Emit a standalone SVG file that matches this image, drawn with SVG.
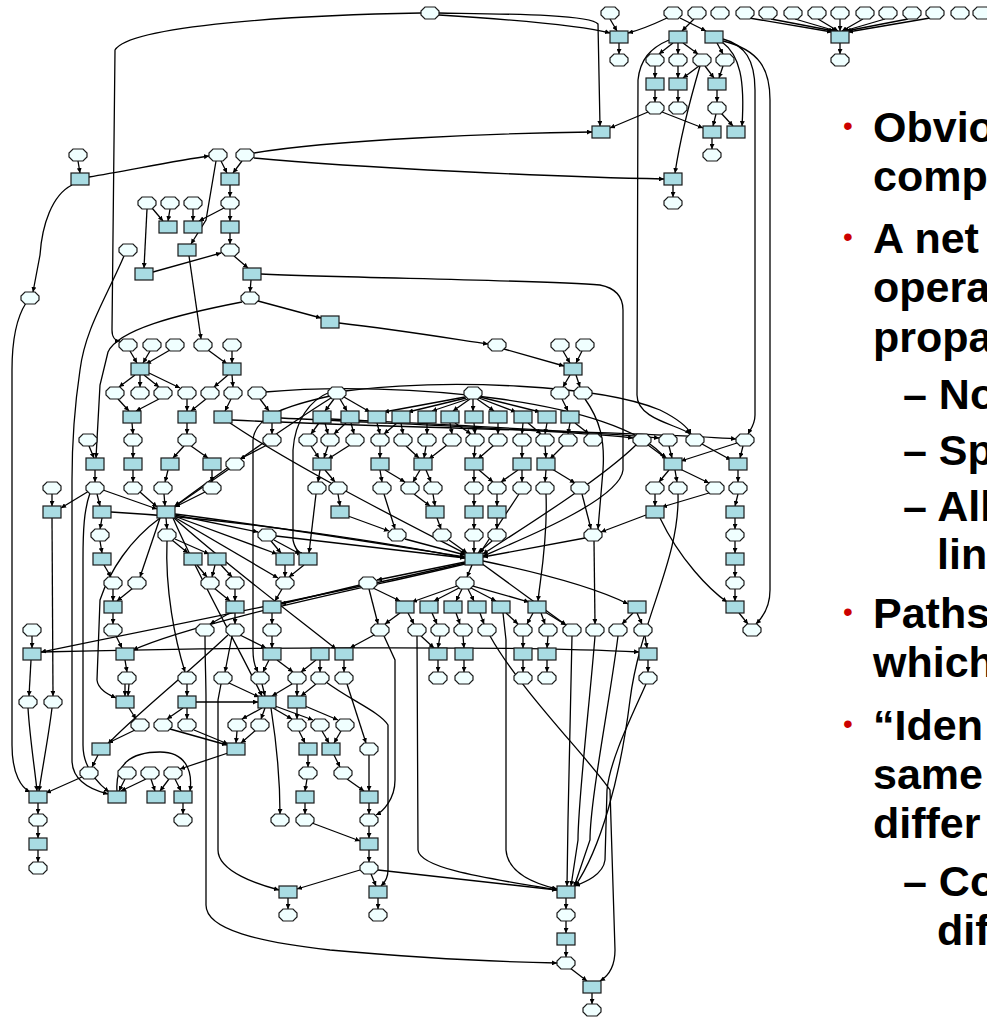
<svg xmlns="http://www.w3.org/2000/svg" width="987" height="1019" viewBox="0 0 987 1019">
<style>
.rn{fill:#A9DCE3;stroke:#1a1a1a;stroke-width:1.2}
.en{fill:#F0FFFF;stroke:#1a1a1a;stroke-width:1.2}
#connectors path{fill:none;stroke:#000;stroke-width:1.3;marker-end:url(#a)}
.t{font-family:"Liberation Sans",Arial,sans-serif;font-weight:bold;font-size:43px;fill:#000}
.b{font-family:"Liberation Sans",Arial,sans-serif;font-size:28px;fill:#CC0000}
</style>
<defs>
<marker id="a" viewBox="0 0 6 6" refX="6" refY="3" markerWidth="5" markerHeight="5" markerUnits="userSpaceOnUse" orient="auto"><path d="M0,0 L6,3 L0,6 Z" fill="#000"/></marker>
<rect id="R" x="-9" y="-6" width="18" height="12" class="rn"/>
<path id="E" d="M-5,-6 H5 L9,-2 V2 L5,6 H-5 L-9,2 V-2 Z" class="en"/>
</defs>
<rect width="987" height="1019" fill="#fff"/>
<g id="connectors">
<path d="M610 19 L617 31"/><path d="M667 18 C650 26 640 30 628 33"/><path d="M680 18 L706 31"/><path d="M694 19 L682 31"/>
<path d="M749 18 L832 32"/><path d="M771 19 L834 31"/><path d="M795 19 L836 31"/><path d="M818 19 L838 31"/><path d="M840 19 L840 31"/><path d="M863 19 L842 31"/><path d="M885 19 L844 31"/><path d="M908 19 L846 31"/><path d="M930 18 L848 32"/>
<path d="M439 13 C500 14 590 14 598 24 L600 126"/>
<path d="M439 15 C520 20 580 25 610 33"/>
<path d="M421 13 C300 15 130 25 115 50 L112 330 C112 338 116 341 120 341"/>
<path d="M619 43 V54"/><path d="M840 43 V54"/><path d="M673 43 L659 54"/><path d="M678 43 V54"/><path d="M683 43 L698 54"/><path d="M717 43 L723 54"/>
<path d="M669 40 C650 48 640 60 638 80 L637 395 C637 420 680 425 690 434"/>
<path d="M723 39 C745 45 755 60 755 90 L755 415 C755 425 750 430 748 434"/>
<path d="M723 41 C760 50 770 70 770 100 L770 590 C770 610 760 620 756 624"/>
<path d="M722 42 C740 55 745 80 742 126"/>
<path d="M655 66 V78"/><path d="M678 66 V78"/><path d="M699 66 L683 78"/><path d="M705 66 L714 78"/><path d="M723 66 L719 78"/>
<path d="M655 90 V102"/><path d="M678 90 V102"/><path d="M717 90 V102"/>
<path d="M648 112 L610 128"/><path d="M662 112 L703 128"/><path d="M716 114 L713 126"/><path d="M721 113 L733 126"/>
<path d="M712 138 V149"/><path d="M700 66 C690 100 680 140 675 173"/>
<path d="M254 153 C330 140 500 133 592 132"/>
<path d="M254 158 C360 168 560 177 664 179"/>
<path d="M673 185 V197"/>
<path d="M78 161 L80 173"/><path d="M89 177 C130 170 180 160 209 156"/>
<path d="M72 185 C52 195 42 225 40 255 L33 292"/>
<path d="M26 303 C15 320 12 345 12 370 L12 745 C12 775 22 788 30 792"/>
<path d="M221 161 L227 173"/><path d="M242 161 L233 173"/><path d="M216 161 L206 220 L191 244"/>
<path d="M230 185 V197"/><path d="M230 209 V221"/><path d="M230 233 V244"/><path d="M234 256 L248 268"/><path d="M251 280 L250 292"/>
<path d="M152 208 L163 221"/><path d="M147 209 L144 268"/><path d="M170 209 L168 221"/><path d="M193 209 V221"/><path d="M224 208 L199 221"/>
<path d="M153 272 L221 253"/>
<path d="M124 256 C105 300 85 330 80 370 C74 410 72 440 72 480 L72 760 C72 785 100 792 108 794"/>
<path d="M189 256 L201 339"/><path d="M258 301 L321 318"/>
<path d="M242 302 C175 315 118 330 108 352 L100 385 L96 458"/>
<path d="M261 274 C350 278 540 280 600 285 C615 288 623 296 623 310 L623 470 C620 500 520 540 483 556"/>
<path d="M339 323 C400 330 460 340 488 344"/>
<path d="M504 349 L564 366"/><path d="M563 351 L570 363"/><path d="M582 351 L576 363"/><path d="M570 375 L563 387"/><path d="M576 375 L580 387"/>
<path d="M130 351 L137 363"/><path d="M150 351 L143 363"/><path d="M170 350 L146 364"/><path d="M208 350 L227 364"/><path d="M232 351 V363"/>
<path d="M135 375 L119 387"/><path d="M140 375 V387"/><path d="M144 375 L159 387"/><path d="M149 373 L180 388"/><path d="M232 375 L233 387"/><path d="M228 375 L214 387"/>
<path d="M118 399 L129 411"/><path d="M159 399 L136 411"/><path d="M187 399 V411"/><path d="M206 399 L191 411"/><path d="M231 399 L225 411"/><path d="M260 399 L269 411"/>
<path d="M334 399 L325 411"/><path d="M340 399 L347 411"/><path d="M344 397 L370 412"/>
<path d="M465 397 L384 412"/><path d="M466 398 L408 412"/><path d="M468 399 L432 411"/><path d="M470 399 L453 411"/><path d="M473 399 V411"/><path d="M477 399 L494 411"/><path d="M479 398 L516 412"/><path d="M480 397 L540 412"/>
<path d="M562 399 L568 411"/><path d="M585 399 C600 420 605 440 603 470 L598 529"/>
<path d="M132 423 L133 434"/><path d="M187 423 V434"/><path d="M272 423 V434"/><path d="M319 423 L311 434"/><path d="M325 423 L328 434"/><path d="M351 423 L354 434"/>
<path d="M377 423 L380 434"/><path d="M401 423 L403 434"/><path d="M427 423 V434"/><path d="M450 423 L452 434"/><path d="M474 423 L475 434"/><path d="M498 423 V434"/><path d="M523 423 L522 434"/><path d="M547 423 L545 434"/><path d="M570 423 L568 434"/>
<path d="M346 423 L334 434"/><path d="M397 423 L384 434"/><path d="M455 423 L471 434"/><path d="M528 423 L541 434"/><path d="M575 423 L589 434"/>
<path d="M281 418 C400 424 560 430 633 438"/>
<path d="M232 420 C400 428 650 432 736 439"/>
<path d="M331 419 C450 425 600 432 659 438"/>
<path d="M265 392 C400 380 620 400 665 458"/>
<path d="M345 391 C450 378 600 385 660 410 C680 420 688 428 691 434"/>
<path d="M230 423 C300 470 420 530 466 554"/>
<path d="M89 446 L94 458"/><path d="M133 446 V458"/><path d="M184 446 L173 458"/><path d="M191 446 L208 458"/><path d="M267 445 L240 459"/>
<path d="M311 446 L319 458"/><path d="M328 446 L324 458"/><path d="M350 445 L328 459"/><path d="M380 446 V458"/><path d="M406 446 L419 458"/><path d="M426 446 L424 458"/><path d="M447 445 L429 459"/>
<path d="M475 446 L474 458"/><path d="M494 445 L478 459"/><path d="M522 446 V458"/><path d="M545 446 L546 458"/><path d="M564 445 L550 459"/>
<path d="M648 445 L667 459"/><path d="M669 446 L672 458"/><path d="M737 443 L681 461"/><path d="M702 444 L731 460"/><path d="M743 446 L740 458"/>
<path d="M95 470 V482"/><path d="M133 470 V482"/><path d="M168 470 L165 482"/><path d="M212 470 V482"/><path d="M320 470 L318 482"/><path d="M325 470 L335 482"/>
<path d="M380 470 L382 482"/><path d="M385 470 L405 482"/><path d="M420 470 L413 482"/><path d="M426 470 L431 482"/><path d="M474 470 V482"/><path d="M479 470 L493 482"/><path d="M522 470 V482"/><path d="M518 470 L501 482"/><path d="M546 470 L545 482"/><path d="M552 469 L575 483"/>
<path d="M669 470 L659 482"/><path d="M675 470 L677 482"/><path d="M680 469 L709 483"/><path d="M738 470 V482"/>
<path d="M89 491 L61 508"/><path d="M52 494 V506"/>
<path d="M97 494 L100 506"/><path d="M140 492 L157 507"/><path d="M164 494 L165 506"/><path d="M205 492 L175 507"/><path d="M229 469 L174 507"/><path d="M103 490 L157 509"/>
<path d="M338 494 L340 506"/><path d="M433 494 L435 506"/><path d="M414 494 L430 506"/><path d="M474 494 V506"/><path d="M497 494 V506"/><path d="M655 494 V506"/><path d="M709 493 L662 507"/><path d="M738 494 L735 506"/>
<path d="M582 494 L591 529"/><path d="M316 494 L309 553"/><path d="M384 494 L395 529"/><path d="M519 494 L480 553"/>
<path d="M546 494 C548 540 540 580 538 601"/>
<path d="M678 494 C680 560 640 620 630 700 C620 780 600 850 575 886"/>
<path d="M102 518 L100 529"/><path d="M166 518 L167 529"/><path d="M175 515 L258 532"/><path d="M348 516 L389 531"/><path d="M437 518 L441 529"/><path d="M474 518 V529"/><path d="M497 518 V529"/>
<path d="M646 515 L601 532"/><path d="M735 518 V529"/><path d="M660 518 C680 560 710 590 727 602"/>
<path d="M331 398 C280 430 210 480 175 506"/>
<path d="M330 396 C290 405 255 415 253 440 L253 650 C253 665 257 670 258 672"/>
<path d="M330 392 C310 400 295 420 293 450 L293 540 C295 550 300 553 302 553"/>
<path d="M100 541 L102 553"/><path d="M172 540 L188 553"/><path d="M175 539 L209 554"/><path d="M271 541 L281 553"/><path d="M274 540 L300 554"/><path d="M174 516 L277 554"/>
<path d="M405 539 L465 555"/><path d="M449 540 L467 553"/><path d="M474 541 V553"/><path d="M492 541 L478 553"/><path d="M585 538 L483 557"/><path d="M735 541 V553"/>
<path d="M175 514 C300 530 420 550 465 557"/><path d="M276 536 L465 558"/><path d="M111 512 C250 520 400 545 465 558"/>
<path d="M636 445 C600 480 520 530 483 554"/>
<path d="M104 565 L111 577"/><path d="M197 565 L207 577"/><path d="M221 565 L232 577"/><path d="M215 565 L212 577"/><path d="M285 565 V577"/><path d="M304 565 L289 577"/>
<path d="M465 562 L377 580"/><path d="M472 565 L467 577"/><path d="M174 517 L278 578"/>
<path d="M483 561 C550 575 600 590 628 604"/>
<path d="M465 563 C350 590 150 630 41 652"/>
<path d="M465 564 C380 585 200 620 133 650"/>
<path d="M173 517 C220 560 300 620 336 649"/>
<path d="M160 518 L140 577"/><path d="M735 565 V577"/>
<path d="M113 589 V601"/><path d="M133 588 L117 601"/><path d="M235 589 V601"/><path d="M214 588 L230 601"/><path d="M282 589 L275 601"/>
<path d="M457 586 L412 602"/><path d="M459 588 L434 601"/><path d="M462 589 L456 601"/><path d="M468 589 L474 601"/><path d="M471 588 L496 601"/><path d="M473 586 L529 602"/><path d="M373 588 L400 601"/><path d="M360 585 L281 604"/><path d="M735 589 V601"/>
<path d="M113 613 V624"/><path d="M235 613 V624"/><path d="M230 613 L210 624"/><path d="M272 613 V624"/><path d="M400 613 L385 624"/><path d="M408 613 L414 624"/><path d="M432 613 L437 624"/><path d="M456 613 L460 624"/><path d="M480 613 L484 624"/><path d="M506 613 L518 624"/><path d="M541 613 L545 624"/><path d="M533 613 L527 624"/>
<path d="M637 613 L642 624"/><path d="M633 613 L622 624"/><path d="M739 613 L748 624"/>
<path d="M481 563 L566 625"/><path d="M545 612 L566 625"/><path d="M594 541 L595 624"/><path d="M369 589 L378 624"/>
<path d="M32 636 V648"/><path d="M116 636 L122 648"/><path d="M240 635 L266 648"/><path d="M272 636 V648"/><path d="M374 635 L350 648"/><path d="M421 636 L434 648"/><path d="M440 636 L438 648"/><path d="M463 636 L464 648"/><path d="M523 636 V648"/><path d="M548 636 L547 648"/><path d="M645 636 L647 648"/>
<path d="M572 636 L568 820 L567 886"/>
<path d="M595 636 C590 700 578 800 578 840 L571 886"/>
<path d="M618 636 C610 700 590 800 590 840 L574 887"/>
<path d="M417 636 L418 850 C420 870 500 880 557 890"/>
<path d="M503 613 L506 640 L506 850 C508 875 540 885 557 889"/>
<path d="M490 636 C520 690 590 760 610 790 L615 950 C615 970 605 978 600 981"/>
<path d="M384 636 L395 660 L395 780 C395 800 382 812 376 815"/>
<path d="M646 684 C630 720 610 760 607 790 L605 860 C603 875 585 882 575 886"/>
<path d="M41 652 C200 648 500 645 639 652"/>
<path d="M125 660 L127 672"/><path d="M269 660 L263 672"/><path d="M277 660 L293 672"/><path d="M320 660 V672"/><path d="M316 660 L301 672"/><path d="M344 660 V672"/><path d="M438 660 V672"/><path d="M464 660 V672"/><path d="M523 660 V672"/><path d="M547 660 V672"/><path d="M648 660 V672"/>
<path d="M167 541 C165 590 175 640 185 672"/><path d="M232 636 L225 672"/>
<path d="M125 684 V696"/><path d="M129 684 L128 696"/><path d="M187 684 V696"/><path d="M229 683 L259 697"/><path d="M262 684 L265 696"/><path d="M292 684 L272 696"/><path d="M297 684 V696"/><path d="M316 684 L301 696"/><path d="M196 702 L258 702"/>
<path d="M31 660 L29 696"/><path d="M52 518 L53 696"/>
<path d="M28 708 C30 740 35 770 37 791"/><path d="M52 708 C48 740 42 770 39 791"/>
<path d="M160 518 C130 540 110 570 100 600 L97 680 C98 690 110 695 116 698"/>
<path d="M90 493 C84 510 83 530 83 560 L83 745 C83 770 100 785 109 792"/>
<path d="M173 518 C200 580 240 650 262 696"/>
<path d="M129 708 L136 719"/><path d="M187 708 V719"/><path d="M183 708 L167 719"/><path d="M262 708 L242 719"/><path d="M265 708 L261 719"/><path d="M273 708 L292 719"/><path d="M275 706 L313 720"/><path d="M297 708 V719"/><path d="M305 706 L338 720"/>
<path d="M135 730 L108 743"/><path d="M237 731 L236 743"/><path d="M256 730 L241 743"/><path d="M299 731 L305 743"/><path d="M322 731 L329 743"/><path d="M341 731 L334 743"/><path d="M170 729 L227 745"/><path d="M194 730 L228 744"/><path d="M347 684 L366 743"/>
<path d="M228 635 C180 680 130 720 108 744"/>
<path d="M98 755 L92 767"/><path d="M228 753 L180 769"/><path d="M308 755 V767"/><path d="M334 755 L340 767"/><path d="M369 755 V791"/>
<path d="M82 777 L46 793"/><path d="M125 779 L119 791"/><path d="M146 779 L121 791"/><path d="M151 779 L155 791"/><path d="M175 779 L181 791"/><path d="M169 779 L160 791"/><path d="M307 779 L305 791"/><path d="M347 779 L364 791"/>
<path d="M117 791 C115 765 130 752 160 752 C185 752 193 770 190 791"/>
<path d="M38 803 V814"/><path d="M38 826 V838"/><path d="M38 850 V862"/><path d="M183 803 V814"/><path d="M305 803 V814"/><path d="M369 803 V814"/><path d="M369 826 V838"/><path d="M369 850 V862"/>
<path d="M312 823 L360 841"/><path d="M371 874 L376 886"/>
<path d="M378 870 C450 878 520 886 557 890"/>
<path d="M271 708 C276 740 280 780 280 814"/>
<path d="M221 684 L218 700 L218 850 C218 872 260 885 279 890"/>
<path d="M360 870 L297 889"/>
<path d="M326 682 C350 700 380 712 388 725 L388 870 C388 880 383 884 381 886"/>
<path d="M288 898 V909"/><path d="M378 898 V909"/><path d="M566 898 V909"/><path d="M566 921 V933"/><path d="M566 945 V957"/><path d="M570 968 L587 981"/><path d="M592 993 V1004"/>
<path d="M205 636 C205 660 206 680 206 700 L206 905 C206 930 260 942 330 950 C420 958 500 962 557 963"/>
</g>
<g id="nodes">
<g id="n0_430"><use href="#E" x="430" y="13"/></g><g id="n0_610"><use href="#E" x="610" y="13"/></g><g id="n0_673"><use href="#E" x="673" y="13"/></g><g id="n0_697"><use href="#E" x="697" y="13"/></g><g id="n0_720"><use href="#E" x="720" y="13"/></g><g id="n0_745"><use href="#E" x="745" y="13"/></g><g id="n0_768"><use href="#E" x="768" y="13"/></g><g id="n0_793"><use href="#E" x="793" y="13"/></g><g id="n0_817"><use href="#E" x="817" y="13"/></g><g id="n0_840"><use href="#E" x="840" y="13"/></g><g id="n0_865"><use href="#E" x="865" y="13"/></g><g id="n0_888"><use href="#E" x="888" y="13"/></g><g id="n0_912"><use href="#E" x="912" y="13"/></g><g id="n0_935"><use href="#E" x="935" y="13"/></g><g id="n0_960"><use href="#E" x="960" y="13"/></g><g id="n0_982"><use href="#E" x="982" y="13"/></g>
<g id="n1_619"><use href="#R" x="619" y="37"/></g><g id="n1_678"><use href="#R" x="678" y="37"/></g><g id="n1_714"><use href="#R" x="714" y="37"/></g><g id="n1_840"><use href="#R" x="840" y="37"/></g>
<g id="n2_619"><use href="#E" x="619" y="60"/></g><g id="n2_655"><use href="#E" x="655" y="60"/></g><g id="n2_678"><use href="#E" x="678" y="60"/></g><g id="n2_702"><use href="#E" x="702" y="60"/></g><g id="n2_725"><use href="#E" x="725" y="60"/></g><g id="n2_840"><use href="#E" x="840" y="60"/></g>
<g id="n3_655"><use href="#R" x="655" y="84"/></g><g id="n3_678"><use href="#R" x="678" y="84"/></g><g id="n3_717"><use href="#R" x="717" y="84"/></g>
<g id="n4_655"><use href="#E" x="655" y="108"/></g><g id="n4_678"><use href="#E" x="678" y="108"/></g><g id="n4_717"><use href="#E" x="717" y="108"/></g>
<g id="n5_601"><use href="#R" x="601" y="132"/></g><g id="n5_712"><use href="#R" x="712" y="132"/></g><g id="n5_736"><use href="#R" x="736" y="132"/></g>
<g id="n6_78"><use href="#E" x="78" y="155"/></g><g id="n6_218"><use href="#E" x="218" y="155"/></g><g id="n6_245"><use href="#E" x="245" y="155"/></g><g id="n6_712"><use href="#E" x="712" y="155"/></g>
<g id="n7_80"><use href="#R" x="80" y="179"/></g><g id="n7_230"><use href="#R" x="230" y="179"/></g><g id="n7_673"><use href="#R" x="673" y="179"/></g>
<g id="n8_147"><use href="#E" x="147" y="203"/></g><g id="n8_170"><use href="#E" x="170" y="203"/></g><g id="n8_193"><use href="#E" x="193" y="203"/></g><g id="n8_230"><use href="#E" x="230" y="203"/></g><g id="n8_673"><use href="#E" x="673" y="203"/></g>
<g id="n9_168"><use href="#R" x="168" y="227"/></g><g id="n9_193"><use href="#R" x="193" y="227"/></g><g id="n9_230"><use href="#R" x="230" y="227"/></g>
<g id="n10_128"><use href="#E" x="128" y="250"/></g><g id="n10_187"><use href="#R" x="187" y="250"/></g><g id="n10_230"><use href="#E" x="230" y="250"/></g>
<g id="n11_144"><use href="#R" x="144" y="274"/></g><g id="n11_252"><use href="#R" x="252" y="274"/></g>
<g id="n12_30"><use href="#E" x="30" y="298"/></g><g id="n12_250"><use href="#E" x="250" y="298"/></g>
<g id="n13_330"><use href="#R" x="330" y="322"/></g>
<g id="n14_128"><use href="#E" x="128" y="345"/></g><g id="n14_152"><use href="#E" x="152" y="345"/></g><g id="n14_175"><use href="#E" x="175" y="345"/></g><g id="n14_203"><use href="#E" x="203" y="345"/></g><g id="n14_232"><use href="#E" x="232" y="345"/></g><g id="n14_497"><use href="#E" x="497" y="345"/></g><g id="n14_560"><use href="#E" x="560" y="345"/></g><g id="n14_585"><use href="#E" x="585" y="345"/></g>
<g id="n15_140"><use href="#R" x="140" y="369"/></g><g id="n15_232"><use href="#R" x="232" y="369"/></g><g id="n15_573"><use href="#R" x="573" y="369"/></g>
<g id="n16_115"><use href="#E" x="115" y="393"/></g><g id="n16_140"><use href="#E" x="140" y="393"/></g><g id="n16_163"><use href="#E" x="163" y="393"/></g><g id="n16_187"><use href="#E" x="187" y="393"/></g><g id="n16_210"><use href="#E" x="210" y="393"/></g><g id="n16_233"><use href="#E" x="233" y="393"/></g><g id="n16_257"><use href="#E" x="257" y="393"/></g><g id="n16_337"><use href="#E" x="337" y="393"/></g><g id="n16_473"><use href="#E" x="473" y="393"/></g><g id="n16_560"><use href="#E" x="560" y="393"/></g><g id="n16_583"><use href="#E" x="583" y="393"/></g>
<g id="n17_132"><use href="#R" x="132" y="417"/></g><g id="n17_187"><use href="#R" x="187" y="417"/></g><g id="n17_223"><use href="#R" x="223" y="417"/></g><g id="n17_272"><use href="#R" x="272" y="417"/></g><g id="n17_322"><use href="#R" x="322" y="417"/></g><g id="n17_350"><use href="#R" x="350" y="417"/></g><g id="n17_377"><use href="#R" x="377" y="417"/></g><g id="n17_401"><use href="#R" x="401" y="417"/></g><g id="n17_427"><use href="#R" x="427" y="417"/></g><g id="n17_450"><use href="#R" x="450" y="417"/></g><g id="n17_474"><use href="#R" x="474" y="417"/></g><g id="n17_498"><use href="#R" x="498" y="417"/></g><g id="n17_523"><use href="#R" x="523" y="417"/></g><g id="n17_547"><use href="#R" x="547" y="417"/></g><g id="n17_570"><use href="#R" x="570" y="417"/></g>
<g id="n18_88"><use href="#E" x="88" y="440"/></g><g id="n18_133"><use href="#E" x="133" y="440"/></g><g id="n18_187"><use href="#E" x="187" y="440"/></g><g id="n18_272"><use href="#E" x="272" y="440"/></g><g id="n18_308"><use href="#E" x="308" y="440"/></g><g id="n18_330"><use href="#E" x="330" y="440"/></g><g id="n18_355"><use href="#E" x="355" y="440"/></g><g id="n18_380"><use href="#E" x="380" y="440"/></g><g id="n18_403"><use href="#E" x="403" y="440"/></g><g id="n18_427"><use href="#E" x="427" y="440"/></g><g id="n18_452"><use href="#E" x="452" y="440"/></g><g id="n18_475"><use href="#E" x="475" y="440"/></g><g id="n18_498"><use href="#E" x="498" y="440"/></g><g id="n18_522"><use href="#E" x="522" y="440"/></g><g id="n18_545"><use href="#E" x="545" y="440"/></g><g id="n18_568"><use href="#E" x="568" y="440"/></g><g id="n18_593"><use href="#E" x="593" y="440"/></g><g id="n18_642"><use href="#E" x="642" y="440"/></g><g id="n18_668"><use href="#E" x="668" y="440"/></g><g id="n18_695"><use href="#E" x="695" y="440"/></g><g id="n18_745"><use href="#E" x="745" y="440"/></g>
<g id="n19_95"><use href="#R" x="95" y="464"/></g><g id="n19_133"><use href="#R" x="133" y="464"/></g><g id="n19_170"><use href="#R" x="170" y="464"/></g><g id="n19_212"><use href="#R" x="212" y="464"/></g><g id="n19_235"><use href="#E" x="235" y="464"/></g><g id="n19_322"><use href="#R" x="322" y="464"/></g><g id="n19_380"><use href="#R" x="380" y="464"/></g><g id="n19_423"><use href="#R" x="423" y="464"/></g><g id="n19_474"><use href="#R" x="474" y="464"/></g><g id="n19_522"><use href="#R" x="522" y="464"/></g><g id="n19_546"><use href="#R" x="546" y="464"/></g><g id="n19_673"><use href="#R" x="673" y="464"/></g><g id="n19_738"><use href="#R" x="738" y="464"/></g>
<g id="n20_52"><use href="#E" x="52" y="488"/></g><g id="n20_95"><use href="#E" x="95" y="488"/></g><g id="n20_133"><use href="#E" x="133" y="488"/></g><g id="n20_163"><use href="#E" x="163" y="488"/></g><g id="n20_212"><use href="#E" x="212" y="488"/></g><g id="n20_317"><use href="#E" x="317" y="488"/></g><g id="n20_338"><use href="#E" x="338" y="488"/></g><g id="n20_382"><use href="#E" x="382" y="488"/></g><g id="n20_410"><use href="#E" x="410" y="488"/></g><g id="n20_433"><use href="#E" x="433" y="488"/></g><g id="n20_474"><use href="#E" x="474" y="488"/></g><g id="n20_497"><use href="#E" x="497" y="488"/></g><g id="n20_522"><use href="#E" x="522" y="488"/></g><g id="n20_545"><use href="#E" x="545" y="488"/></g><g id="n20_580"><use href="#E" x="580" y="488"/></g><g id="n20_655"><use href="#E" x="655" y="488"/></g><g id="n20_678"><use href="#E" x="678" y="488"/></g><g id="n20_715"><use href="#E" x="715" y="488"/></g><g id="n20_738"><use href="#E" x="738" y="488"/></g>
<g id="n21_52"><use href="#R" x="52" y="512"/></g><g id="n21_102"><use href="#R" x="102" y="512"/></g><g id="n21_166"><use href="#R" x="166" y="512"/></g><g id="n21_340"><use href="#R" x="340" y="512"/></g><g id="n21_435"><use href="#R" x="435" y="512"/></g><g id="n21_474"><use href="#R" x="474" y="512"/></g><g id="n21_497"><use href="#R" x="497" y="512"/></g><g id="n21_655"><use href="#R" x="655" y="512"/></g><g id="n21_735"><use href="#R" x="735" y="512"/></g>
<g id="n22_100"><use href="#E" x="100" y="535"/></g><g id="n22_167"><use href="#E" x="167" y="535"/></g><g id="n22_267"><use href="#E" x="267" y="535"/></g><g id="n22_397"><use href="#E" x="397" y="535"/></g><g id="n22_442"><use href="#E" x="442" y="535"/></g><g id="n22_474"><use href="#E" x="474" y="535"/></g><g id="n22_497"><use href="#E" x="497" y="535"/></g><g id="n22_593"><use href="#E" x="593" y="535"/></g><g id="n22_735"><use href="#E" x="735" y="535"/></g>
<g id="n23_102"><use href="#R" x="102" y="559"/></g><g id="n23_193"><use href="#R" x="193" y="559"/></g><g id="n23_217"><use href="#R" x="217" y="559"/></g><g id="n23_285"><use href="#R" x="285" y="559"/></g><g id="n23_308"><use href="#R" x="308" y="559"/></g><g id="n23_474"><use href="#R" x="474" y="559"/></g><g id="n23_735"><use href="#R" x="735" y="559"/></g>
<g id="n24_113"><use href="#E" x="113" y="583"/></g><g id="n24_137"><use href="#E" x="137" y="583"/></g><g id="n24_210"><use href="#E" x="210" y="583"/></g><g id="n24_235"><use href="#E" x="235" y="583"/></g><g id="n24_285"><use href="#E" x="285" y="583"/></g><g id="n24_368"><use href="#E" x="368" y="583"/></g><g id="n24_465"><use href="#E" x="465" y="583"/></g><g id="n24_735"><use href="#E" x="735" y="583"/></g>
<g id="n25_113"><use href="#R" x="113" y="607"/></g><g id="n25_235"><use href="#R" x="235" y="607"/></g><g id="n25_272"><use href="#R" x="272" y="607"/></g><g id="n25_405"><use href="#R" x="405" y="607"/></g><g id="n25_429"><use href="#R" x="429" y="607"/></g><g id="n25_453"><use href="#R" x="453" y="607"/></g><g id="n25_477"><use href="#R" x="477" y="607"/></g><g id="n25_501"><use href="#R" x="501" y="607"/></g><g id="n25_537"><use href="#R" x="537" y="607"/></g><g id="n25_637"><use href="#R" x="637" y="607"/></g><g id="n25_735"><use href="#R" x="735" y="607"/></g>
<g id="n26_32"><use href="#E" x="32" y="630"/></g><g id="n26_113"><use href="#E" x="113" y="630"/></g><g id="n26_205"><use href="#E" x="205" y="630"/></g><g id="n26_235"><use href="#E" x="235" y="630"/></g><g id="n26_272"><use href="#E" x="272" y="630"/></g><g id="n26_380"><use href="#E" x="380" y="630"/></g><g id="n26_417"><use href="#E" x="417" y="630"/></g><g id="n26_440"><use href="#E" x="440" y="630"/></g><g id="n26_463"><use href="#E" x="463" y="630"/></g><g id="n26_487"><use href="#E" x="487" y="630"/></g><g id="n26_523"><use href="#E" x="523" y="630"/></g><g id="n26_548"><use href="#E" x="548" y="630"/></g><g id="n26_572"><use href="#E" x="572" y="630"/></g><g id="n26_595"><use href="#E" x="595" y="630"/></g><g id="n26_618"><use href="#E" x="618" y="630"/></g><g id="n26_643"><use href="#E" x="643" y="630"/></g><g id="n26_752"><use href="#E" x="752" y="630"/></g>
<g id="n27_32"><use href="#R" x="32" y="654"/></g><g id="n27_125"><use href="#R" x="125" y="654"/></g><g id="n27_272"><use href="#R" x="272" y="654"/></g><g id="n27_320"><use href="#R" x="320" y="654"/></g><g id="n27_344"><use href="#R" x="344" y="654"/></g><g id="n27_438"><use href="#R" x="438" y="654"/></g><g id="n27_464"><use href="#R" x="464" y="654"/></g><g id="n27_523"><use href="#R" x="523" y="654"/></g><g id="n27_547"><use href="#R" x="547" y="654"/></g><g id="n27_648"><use href="#R" x="648" y="654"/></g>
<g id="n28_127"><use href="#E" x="127" y="678"/></g><g id="n28_187"><use href="#E" x="187" y="678"/></g><g id="n28_223"><use href="#E" x="223" y="678"/></g><g id="n28_260"><use href="#E" x="260" y="678"/></g><g id="n28_297"><use href="#E" x="297" y="678"/></g><g id="n28_320"><use href="#E" x="320" y="678"/></g><g id="n28_344"><use href="#E" x="344" y="678"/></g><g id="n28_438"><use href="#E" x="438" y="678"/></g><g id="n28_464"><use href="#E" x="464" y="678"/></g><g id="n28_523"><use href="#E" x="523" y="678"/></g><g id="n28_547"><use href="#E" x="547" y="678"/></g><g id="n28_648"><use href="#E" x="648" y="678"/></g>
<g id="n29_28"><use href="#E" x="28" y="702"/></g><g id="n29_53"><use href="#E" x="53" y="702"/></g><g id="n29_125"><use href="#R" x="125" y="702"/></g><g id="n29_187"><use href="#R" x="187" y="702"/></g><g id="n29_267"><use href="#R" x="267" y="702"/></g><g id="n29_297"><use href="#R" x="297" y="702"/></g>
<g id="n30_140"><use href="#E" x="140" y="725"/></g><g id="n30_163"><use href="#E" x="163" y="725"/></g><g id="n30_187"><use href="#E" x="187" y="725"/></g><g id="n30_237"><use href="#E" x="237" y="725"/></g><g id="n30_260"><use href="#E" x="260" y="725"/></g><g id="n30_297"><use href="#E" x="297" y="725"/></g><g id="n30_320"><use href="#E" x="320" y="725"/></g><g id="n30_345"><use href="#E" x="345" y="725"/></g>
<g id="n31_101"><use href="#R" x="101" y="749"/></g><g id="n31_236"><use href="#R" x="236" y="749"/></g><g id="n31_308"><use href="#R" x="308" y="749"/></g><g id="n31_331"><use href="#R" x="331" y="749"/></g><g id="n31_369"><use href="#E" x="369" y="749"/></g>
<g id="n32_89"><use href="#E" x="89" y="773"/></g><g id="n32_127"><use href="#E" x="127" y="773"/></g><g id="n32_150"><use href="#E" x="150" y="773"/></g><g id="n32_173"><use href="#E" x="173" y="773"/></g><g id="n32_308"><use href="#E" x="308" y="773"/></g><g id="n32_343"><use href="#E" x="343" y="773"/></g>
<g id="n33_38"><use href="#R" x="38" y="797"/></g><g id="n33_117"><use href="#R" x="117" y="797"/></g><g id="n33_156"><use href="#R" x="156" y="797"/></g><g id="n33_183"><use href="#R" x="183" y="797"/></g><g id="n33_305"><use href="#R" x="305" y="797"/></g><g id="n33_369"><use href="#R" x="369" y="797"/></g>
<g id="n34_38"><use href="#E" x="38" y="820"/></g><g id="n34_183"><use href="#E" x="183" y="820"/></g><g id="n34_280"><use href="#E" x="280" y="820"/></g><g id="n34_305"><use href="#E" x="305" y="820"/></g><g id="n34_369"><use href="#E" x="369" y="820"/></g>
<g id="n35_38"><use href="#R" x="38" y="844"/></g><g id="n35_369"><use href="#R" x="369" y="844"/></g>
<g id="n36_38"><use href="#E" x="38" y="868"/></g><g id="n36_369"><use href="#E" x="369" y="868"/></g>
<g id="n37_288"><use href="#R" x="288" y="892"/></g><g id="n37_378"><use href="#R" x="378" y="892"/></g><g id="n37_566"><use href="#R" x="566" y="892"/></g>
<g id="n38_288"><use href="#E" x="288" y="915"/></g><g id="n38_378"><use href="#E" x="378" y="915"/></g><g id="n38_566"><use href="#E" x="566" y="915"/></g>
<g id="n39_566"><use href="#R" x="566" y="939"/></g>
<g id="n40_566"><use href="#E" x="566" y="963"/></g>
<g id="n41_592"><use href="#R" x="592" y="987"/></g>
<g id="n42_592"><use href="#E" x="592" y="1010"/></g>
</g>
<g id="text">
<text class="b" x="843" y="135">•</text><text class="t" x="873" y="142">Obvio</text>
<text class="t" x="873" y="191">comp</text>
<text class="b" x="843" y="246">•</text><text class="t" x="873" y="253">A net</text>
<text class="t" x="873" y="302">opera</text>
<text class="t" x="873" y="352">propa</text>
<text class="t" x="903" y="409">– No</text>
<text class="t" x="903" y="465">– Sp</text>
<text class="t" x="903" y="521">– All</text>
<text class="t" x="937" y="569">lin</text>
<text class="b" x="843" y="621">•</text><text class="t" x="873" y="628">Paths</text>
<text class="t" x="873" y="677">which</text>
<text class="b" x="843" y="733">•</text><text class="t" x="873" y="740">“Iden</text>
<text class="t" x="873" y="789">same</text>
<text class="t" x="873" y="838">differ</text>
<text class="t" x="903" y="896">– Co</text>
<text class="t" x="937" y="945">dif</text>
</g>
</svg>
